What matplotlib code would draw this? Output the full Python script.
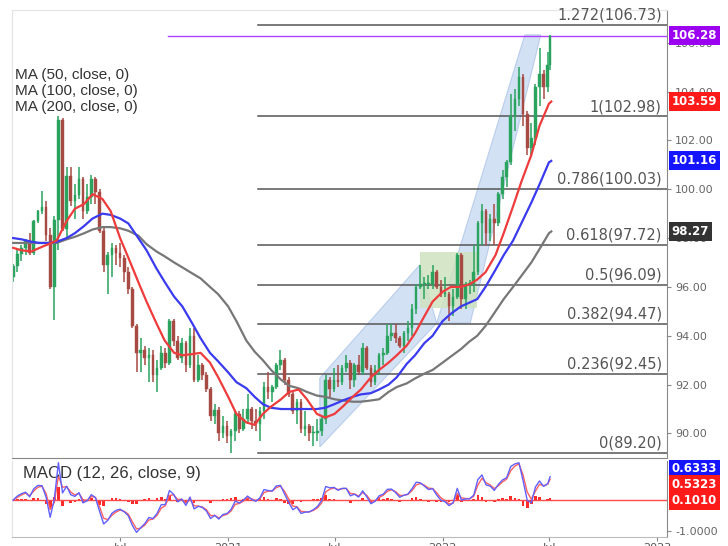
import numpy as np
import pandas as pd
import matplotlib
matplotlib.use("Agg")
import matplotlib.pyplot as plt
import matplotlib.dates as mdates
from matplotlib.patches import Polygon, Rectangle

# ---- weekly OHLC (week ending Friday, last bar is a partial week) ----
week_end = list(pd.date_range("2020-01-03", periods=131, freq="W-FRI")) + [pd.Timestamp("2022-07-05")]
first_open = 96.40

wk_close = [
    # 2020
    96.84, 97.36, 97.61, 97.87, 97.39, 98.69, 99.09, 99.27, 98.13, 96.00, 98.75, 102.82, 98.36,
    100.56, 99.52, 99.76, 100.40, 99.10, 99.70, 100.40, 99.90, 98.30, 96.90, 97.30, 97.60, 97.40,
    97.20, 96.60, 95.90, 94.40, 93.30, 93.40, 93.10, 93.20, 92.40, 92.70, 93.30, 92.90, 94.60,
    93.80, 93.10, 93.70, 92.80, 94.00, 92.20, 92.80, 92.40, 91.80, 90.70, 90.98, 90.00, 90.30,
    # 2021
    89.90, 90.10, 90.80, 90.20, 90.60, 91.00, 90.50, 90.40, 90.90, 91.90, 91.70, 91.90, 92.80,
    93.00, 92.20, 91.60, 90.90, 91.30, 90.20, 90.30, 90.00, 90.00, 90.10, 90.60, 92.20, 91.80,
    92.20, 92.10, 92.70, 92.90, 92.20, 92.80, 92.50, 93.50, 92.70, 92.10, 92.60, 93.20, 93.30,
    94.00, 94.10, 93.90, 93.60, 94.10, 94.30, 95.10, 96.00, 96.10, 96.10, 96.10, 96.60, 96.00, 95.70,
    # 2022
    95.70, 95.20, 95.60, 97.30, 95.50, 96.10, 96.10, 96.60, 98.60, 99.10, 98.20, 98.80, 98.60,
    99.80, 100.50, 101.10, 103.00, 103.70, 104.60, 103.10, 101.70, 102.10, 104.20, 104.70, 104.20,
    105.10, 106.28,
]
wk_high = [
    96.95, 97.60, 97.70, 97.95, 98.20, 98.75, 99.15, 99.91, 99.50, 98.40, 98.90, 103.00, 102.90,
    100.90, 100.90, 100.20, 100.90, 100.50, 100.20, 100.60, 100.50, 100.00, 98.40, 97.45, 97.80, 97.70,
    97.80, 97.30, 96.80, 96.00, 94.50, 93.90, 93.60, 93.50, 93.40, 93.00, 93.60, 93.50, 94.70,
    94.70, 94.00, 93.90, 93.80, 94.30, 94.30, 93.20, 92.90, 92.50, 91.90, 91.20, 91.10, 90.70,
    90.50, 90.20, 90.90, 90.90, 91.00, 91.60, 91.10, 91.00, 91.10, 92.10, 92.50, 92.00, 92.90,
    93.40, 93.10, 92.30, 91.70, 91.40, 91.40, 90.90, 90.40, 90.30, 90.60, 90.70, 92.40, 92.30,
    92.70, 92.80, 92.80, 93.20, 93.00, 92.90, 93.20, 93.70, 93.60, 92.80, 92.80, 93.30, 93.50,
    94.50, 94.50, 94.50, 94.00, 94.20, 94.60, 95.30, 96.10, 96.90, 96.40, 96.50, 96.90, 96.70, 96.30,
    96.40, 95.80, 95.90, 97.40, 97.40, 96.20, 96.30, 97.70, 98.70, 99.40, 99.20, 99.00, 99.40,
    99.90, 100.80, 101.20, 103.90, 104.10, 105.00, 104.70, 103.20, 102.70, 104.30, 105.80, 104.90,
    105.60, 106.30,
]
wk_low = [
    96.21, 96.60, 97.08, 97.30, 97.30, 97.30, 98.60, 99.00, 97.90, 95.90, 94.65, 97.50, 98.30,
    98.00, 99.30, 98.80, 99.60, 98.80, 99.00, 99.40, 99.40, 98.20, 96.60, 95.70, 96.40, 96.90,
    96.80, 96.20, 95.70, 94.30, 92.50, 92.50, 92.80, 92.10, 92.10, 91.70, 92.60, 92.70, 92.80,
    93.60, 93.00, 92.90, 92.50, 92.70, 92.10, 92.10, 92.20, 91.70, 90.50, 90.40, 89.70, 89.80,
    89.60, 89.20, 89.70, 90.00, 90.10, 90.40, 90.20, 90.10, 89.70, 90.60, 91.40, 91.30, 91.80,
    92.60, 92.00, 91.50, 90.80, 90.40, 90.00, 89.90, 89.70, 89.50, 89.70, 89.90, 90.40, 91.50,
    91.70, 91.90, 92.00, 92.50, 91.80, 91.90, 92.40, 92.40, 92.60, 91.90, 92.00, 92.40, 92.80,
    93.20, 93.80, 93.70, 93.50, 93.30, 93.80, 94.00, 94.90, 95.90, 95.50, 95.90, 95.90, 95.90, 95.60,
    95.60, 94.60, 94.80, 95.50, 95.10, 95.10, 95.70, 95.80, 96.50, 97.70, 97.70, 97.90, 97.70,
    98.50, 99.60, 100.10, 101.00, 102.40, 103.40, 102.60, 101.40, 101.30, 101.80, 103.40, 103.70,
    104.00, 104.90,
]

# ---- moving averages (1st and 15th of each month) ----
ma_dates = [f"{y}-{m:02d}-{d:02d}" for y in (2020, 2021) for m in range(1, 13) for d in (1, 15)]
ma_dates += [f"2022-{m:02d}-{d:02d}" for m in range(1, 7) for d in (1, 15)] + ["2022-07-01", "2022-07-05"]
ma50 = [
    97.6, 97.5, 97.45, 97.6, 97.75, 97.9, 98.7, 99.2, 99.4, 99.8, 99.6, 99.1, 98.0, 97.2, 96.2, 95.4,
    94.5, 93.8, 93.3, 93.2, 93.25, 93.3, 92.9, 92.3,
    91.5, 90.8, 90.45, 90.35, 90.8, 91.1, 91.4, 91.7, 91.8, 91.4, 90.8, 90.65, 90.8, 91.1, 91.5, 91.8,
    92.3, 92.6, 92.9, 93.2, 93.6, 94.1, 94.8, 95.4,
    95.8, 96.0, 96.0, 96.1, 96.3, 96.6, 97.3, 98.2, 99.3, 100.3, 101.4, 102.6, 103.5, 103.59,
]
ma100 = [
    98.0, 97.95, 97.85, 97.8, 97.8, 97.85, 98.0, 98.2, 98.5, 98.8, 99.0, 98.95, 98.8, 98.6, 98.0, 97.5,
    96.75, 96.2, 95.6, 95.2, 94.5, 93.9, 93.3, 92.95,
    92.5, 92.1, 91.85, 91.5, 91.2, 91.05, 91.0, 91.0, 91.0, 91.0, 91.0, 91.05, 91.2, 91.35, 91.5, 91.6,
    91.65, 91.8, 92.0, 92.3, 92.85, 93.2, 93.7, 94.0,
    94.6, 94.9, 95.2, 95.35, 95.5, 96.0, 96.7, 97.3, 97.9, 98.6, 99.45, 100.2, 101.1, 101.16,
]
ma200 = [
    97.8, 97.8, 97.8, 97.8, 97.8, 97.8, 97.95, 98.05, 98.2, 98.35, 98.45, 98.45, 98.4, 98.3, 98.1, 97.75,
    97.45, 97.25, 97.0, 96.8, 96.55, 96.35, 96.0, 95.7,
    95.2, 94.6, 93.8, 93.35, 93.0, 92.6, 92.2, 91.95, 91.85, 91.7, 91.55, 91.5, 91.4, 91.35, 91.3, 91.3,
    91.35, 91.4, 91.7, 91.9, 92.05, 92.25, 92.45, 92.6,
    92.9, 93.15, 93.45, 93.75, 94.0, 94.4, 95.0, 95.5, 96.0, 96.45, 97.0, 97.55, 98.2, 98.27,
]
ma_labels = ["MA (50, close, 0)", "MA (100, close, 0)", "MA (200, close, 0)"]

# ---- fibonacci retracement ----
fib_ratio = ["0", "0.236", "0.382", "0.5", "0.618", "0.786", "1", "1.272"]
fib_price = [89.20, 92.45, 94.47, 96.09, 97.72, 100.03, 102.98, 106.73]
fib_start = "2021-02-21"
last_price = 106.28
last_line_start = "2020-09-21"

# ---- drawn shapes (date, price) ----
channel1_dates = ["2021-06-06", "2021-06-06", "2021-11-23", "2021-12-22"]
channel1_price = [89.45, 92.27, 96.90, 94.52]
channel2_dates = ["2021-12-22", "2022-02-17", "2022-06-17", "2022-05-21"]
channel2_price = [94.52, 94.52, 106.32, 106.32]
box_dates = ["2021-11-23", "2022-02-28"]
box_price = [95.14, 97.43]

# ---- price tags on the right axis ----
tag_values = [106.28, 103.59, 101.16, 98.27]
tag_colors = ["#9b00f0", "#ff1a1a", "#1414ff", "#333333"]

macd_tags = ["0.6333", "0.5323", "0.1010"]
macd_tag_colors = ["#1414ff", "#ff1a1a", "#ff1a1a"]

xtick_dates = ["2020-07-01", "2021-01-01", "2021-07-01", "2022-01-01", "2022-07-01", "2023-01-01"]
xtick_labels = ["Jul", "2021", "Jul", "2022", "Jul", "2023"]

# ---------------------------------------------------------------
d = lambda s: mdates.date2num(pd.to_datetime(s))

fig = plt.figure(figsize=(7.28, 5.46), dpi=100)
ax = fig.add_axes([0.0165, 0.1612, 0.8997, 0.8205])
mx = fig.add_axes([0.0165, 0.0165, 0.8997, 0.1392], sharex=ax)

xlo, xhi = d("2019-12-30"), d("2023-01-18")
ax.set_xlim(xlo, xhi)
ax.set_ylim(88.995, 107.34)

# shaded drawings
ax.add_patch(Polygon(list(zip([d(s) for s in channel1_dates], channel1_price)),
                     closed=True, fc="#c9daf2", ec="#aec5e8", lw=0.8, alpha=0.8, zorder=0.5))
ax.add_patch(Polygon(list(zip([d(s) for s in channel2_dates], channel2_price)),
                     closed=True, fc="#c9daf2", ec="#aec5e8", lw=0.8, alpha=0.8, zorder=0.5))
ax.add_patch(Rectangle((d(box_dates[0]), box_price[0]), d(box_dates[1]) - d(box_dates[0]),
                       box_price[1] - box_price[0], fc="#cfe3c0", ec="none", alpha=0.85, zorder=0.6))

# fibonacci lines
for r, p in zip(fib_ratio, fib_price):
    ax.plot([d(fib_start), xhi], [p, p], color="#555555", lw=1.1, zorder=1)
    ax.text(xhi - 9, p + 0.1, f"{r}({p:.2f})", ha="right", va="bottom",
            fontsize=10.5, color="#555555", zorder=6)
ax.plot([d(last_line_start), xhi], [last_price, last_price], color="#b040ff", lw=1, zorder=1.2)

# candles
x = np.array([d(t) for t in week_end]) - 2
opens = np.array([first_open] + wk_close[:-1])
closes = np.array(wk_close)
up = closes >= opens
col = np.where(up, "#2aa35f", "#a84a44")
ax.vlines(x, wk_low, wk_high, colors=col, lw=1.1, zorder=2)
ax.bar(x, np.maximum(np.abs(closes - opens), 0.05), bottom=np.minimum(opens, closes),
       width=4.5, color=col, edgecolor=col, lw=0.3, zorder=2.1)

# moving averages
mad = [d(s) for s in ma_dates]
ax.plot(mad, ma200, color="#777777", lw=1.6, zorder=3)
ax.plot(mad, ma100, color="#3a3aee", lw=1.6, zorder=3.1)
ax.plot(mad, ma50, color="#ee3b3b", lw=1.6, zorder=3.2)

for i, t in enumerate(ma_labels):
    ax.text(0.004, 0.854 - i * 0.0355, t, transform=ax.transAxes, fontsize=11,
            color="#333333", ha="left", va="center", family="Liberation Sans")

# axes styling (main)
ax.yaxis.tick_right()
ax.set_yticks(np.arange(90, 107, 2))
ax.set_yticklabels([f"{v:.2f}" for v in np.arange(90, 107, 2)])
ax.tick_params(axis="y", direction="out", length=3, color="#888888", labelsize=8,
               labelcolor="#666666", pad=3)
ax.tick_params(axis="x", bottom=False, labelbottom=False)
for side in ("left", "top"):
    ax.spines[side].set_color("#e4e4e4")
ax.spines["right"].set_color("#888888")
ax.spines["bottom"].set_color("#888888")

for v, c in zip(tag_values, tag_colors):
    ax.annotate(f"{v:.2f}", xy=(1, v), xycoords=("axes fraction", "data"), xytext=(3.5, 0),
                textcoords="offset points", ha="left", va="center", color="white",
                fontsize=8.5, fontweight="bold", annotation_clip=False, zorder=10,
                bbox=dict(boxstyle="square,pad=0.25", fc=c, ec="none"))

# ---- MACD (derived from weekly closes) ----
cs = pd.Series(wk_close)
macd = cs.ewm(alpha=0.566, adjust=False).mean() - cs.ewm(alpha=0.319, adjust=False).mean()
signal = macd.ewm(alpha=0.67, adjust=False).mean()
hist = macd - signal

mx.set_ylim(-1.19, 1.26)
mx.bar(x, hist, width=4.5, color="#ff2a2a", zorder=2)
mx.axhline(0, color="#ff4a4a", lw=1, zorder=2)
mx.plot(x, signal, color="#ff6060", lw=1.0, zorder=3)
mx.plot(x, macd, color="#6060ff", lw=1.0, zorder=3.1)
mx.text(0.017, 0.84, "MACD (12, 26, close, 9)", transform=mx.transAxes, fontsize=12,
        color="#333333", va="center", family="Liberation Sans")

mx.yaxis.tick_right()
mx.set_yticks([-1.0])
mx.set_yticklabels(["-1.0000"])
mx.tick_params(axis="y", direction="out", length=3, color="#888888", labelsize=8,
               labelcolor="#666666", pad=3)
mx.set_xticks([d(s) for s in xtick_dates])
mx.set_xticklabels(xtick_labels)
mx.tick_params(axis="x", direction="out", length=3, color="#888888", labelsize=8,
               labelcolor="#555555", pad=1)
mx.spines["top"].set_visible(False)
mx.spines["left"].set_color("#e4e4e4")
mx.spines["right"].set_color("#888888")
mx.spines["bottom"].set_color("#bbbbbb")

for i, (t, c) in enumerate(zip(macd_tags, macd_tag_colors)):
    mx.annotate(t, xy=(1, 0.895 - i * 0.21), xycoords="axes fraction", xytext=(3.5, 0),
                textcoords="offset points", ha="left", va="center", color="white",
                fontsize=8.5, fontweight="bold", annotation_clip=False, zorder=10,
                bbox=dict(boxstyle="square,pad=0.25", fc=c, ec="none"))

fig.savefig("out.png", dpi=100)
